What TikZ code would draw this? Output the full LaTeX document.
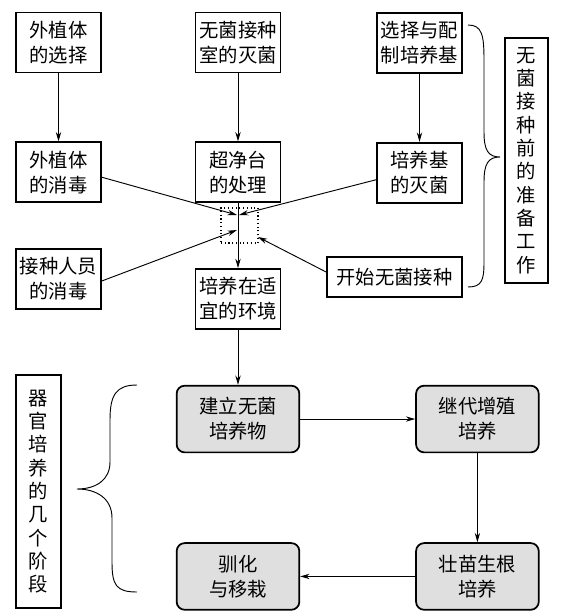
\documentclass[tikz,border=0pt]{standalone}
\usepackage{fontspec}
\newfontfamily\cjk{Noto Sans CJK SC}
\usetikzlibrary{positioning,calc,arrows.meta}

\begin{document}
\begin{tikzpicture}[x=0.75pt, y=-0.75pt, node distance=51pt and 86.25pt,
    every node/.style={font=\cjk\fontsize{14.5}{18.8}\selectfont},
    box/.style={draw, line width=1.3pt, inner sep=0pt, minimum width=63.75pt, minimum height=45pt, align=center},
    stage/.style={draw, line width=1.3pt, rounded corners=6pt, fill=gray!25, inner sep=0pt, minimum width=92pt, minimum height=50pt, align=center},
    tall/.style={draw, line width=1.3pt, inner sep=0pt, align=center, font=\cjk\fontsize{14.5}{17.5}\selectfont},
    arr/.style={->, >={Stealth[length=7pt,width=4pt]}, line width=0.7pt},
    curly/.style={line width=0.7pt}]
    \useasboundingbox (0,0) rectangle (566,616);
    % preparation before inoculation
    \node[box] (B1) at (58.5,42.5) {外植体\\的选择};
    \node[box] (B2) at (238,42.5) {无菌接种\\室的灭菌};
    \node[box] (B3) at (419.5,43) {选择与配\\制培养基};
    \node[box, below=of B1] (B4) {外植体\\的消毒};
    \node[box, below=of B2] (B5) {超净台\\的处理};
    \node[box, below=of B3] (B6) {培养基\\的灭菌};
    \node[box, below=33.75pt of B4] (B7) {接种人员\\的消毒};
    \node[box, below=48.75pt of B5] (B8) {培养在适\\宜的环境};
    \node[box, minimum width=101.25pt, minimum height=30pt] (B9) at (394.5,277) {开始无菌接种};
    \node[draw, dotted, line width=0.8pt, inner sep=0pt, minimum width=27.75pt, minimum height=26.25pt] (hub) at (239.5,225.5) {};
    \coordinate (inA) at (237,215);
    \coordinate (inB) at (239,215);
    \coordinate (inC) at (237,230);
    \coordinate (inD) at (258,237);
    \node[tall, minimum width=32pt, minimum height=183.75pt] (prep) at (526.5,160.5) {无\\菌\\接\\种\\前\\的\\准\\备\\工\\作};
    \draw[arr] (B1) -- (B4);
    \draw[arr] (B2) -- (B5);
    \draw[arr] (B3) -- (B6);
    \draw[arr] (B5) -- (B8);
    \draw[arr] ($(B4.east)+(0,5)$) -- (inA);
    \draw[arr] ($(B6.west)+(0,7)$) -- (inB);
    \draw[arr] ($(B7.east)+(0,2)$) -- (inC);
    \draw[arr] ($(B9.west)+(0,-5)$) -- (inD);
    \draw[curly] (468,25) .. controls (482,25) and (484,35) .. (484,60) -- (484,132)
      .. controls (484,150) and (488,157) .. (500,157)
      .. controls (488,157) and (484,164) .. (484,182) -- (484,262)
      .. controls (484,280) and (482,287) .. (468,287);
    % stages of organ culture
    \node[stage, below=41.25pt of B8] (C1) {建立无菌\\培养物};
    \node[stage, right=of C1] (C2) {继代增殖\\培养};
    \node[stage, below=66.75pt of C2] (C3) {壮苗生根\\培养};
    \node[stage, below=66.75pt of C1] (C4) {驯化\\与移栽};
    \node[tall, minimum width=33.75pt, minimum height=174.75pt] (stages) at (38.5,491.5) {器\\官\\培\\养\\的\\几\\个\\阶\\段};
    \draw[arr] (B8) -- (C1);
    \draw[arr] (C1) -- (C2);
    \draw[arr] (C2) -- (C3);
    \draw[arr] (C3) -- (C4);
    \draw[curly] (137,385) .. controls (116,385) and (110,395) .. (110,420) -- (110,462)
      .. controls (110,480) and (96,489) .. (77,489)
      .. controls (96,489) and (112,498) .. (112,518) -- (112,562)
      .. controls (112,585) and (116,592) .. (137,592);
  \end{tikzpicture}
\end{document}
